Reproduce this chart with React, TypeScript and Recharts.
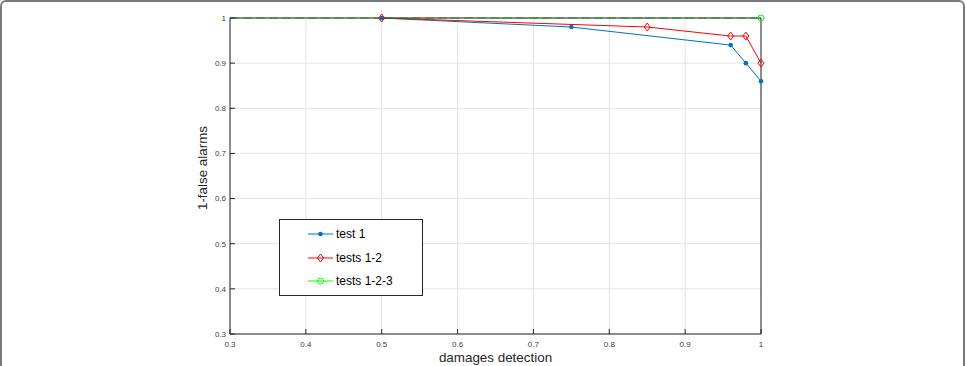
import React from 'react';
import { LineChart, Line, XAxis, YAxis, CartesianGrid } from 'recharts';

// damages detection (x) vs 1-false alarms (y)
const test1X = [0.5, 0.75, 0.96, 0.98, 1.0];
const test1Y = [1.0, 0.98, 0.94, 0.9, 0.86];

const tests12X = [0.5, 0.85, 0.96, 0.98, 1.0];
const tests12Y = [1.0, 0.98, 0.96, 0.96, 0.9];

const tests123X = [0.3, 1.0];
const tests123Y = [1.0, 1.0];

const xTicks = [0.3, 0.4, 0.5, 0.6, 0.7, 0.8, 0.9, 1];
const yTicks = [0.3, 0.4, 0.5, 0.6, 0.7, 0.8, 0.9, 1];
const X_MIN = 0.3;

const seriesNames = ['test 1', 'tests 1-2', 'tests 1-2-3'];

const BLUE = '#0072BD';
const RED = '#ff0000';
const GREEN = '#00ff00';
const AXIS = '#262626';
const FONT = '"Liberation Sans", Arial, Helvetica, sans-serif';

const toPoints = (xs: number[], ys: number[]) => xs.map((x, i) => ({ x, y: ys[i] }));

const test1 = toPoints(test1X, test1Y);
const tests12 = toPoints(tests12X, tests12Y);
const tests123 = toPoints(tests123X, tests123Y);

const fmt = (v: number) => String(Math.round(v * 10) / 10);

const BlueDot = (p: any) => <circle key={`b${p.index}`} cx={p.cx} cy={p.cy} r={2.3} fill={BLUE} stroke="none" />;

const RedDot = (p: any) => (
  <path
    key={`r${p.index}`}
    d={`M${p.cx},${p.cy - 4}L${p.cx + 3},${p.cy}L${p.cx},${p.cy + 4}L${p.cx - 3},${p.cy}Z`}
    fill="none"
    stroke={RED}
    strokeWidth={1}
  />
);

// the green curve starts on the left edge without a marker there
const GreenDot = (p: any) =>
  p.payload && p.payload.x > X_MIN ? (
    <circle key={`g${p.index}`} cx={p.cx} cy={p.cy} r={3} fill="none" stroke={GREEN} strokeWidth={1} />
  ) : (
    <g key={`g${p.index}`} />
  );

const legendMarkers = [
  <circle cx={12.5} cy={5} r={2.3} fill={BLUE} />,
  <path d="M12.5,1L15.5,5L12.5,9L9.5,5Z" fill="none" stroke={RED} />,
  <circle cx={12.5} cy={5} r={3} fill="none" stroke={GREEN} />,
];
const legendColors = [BLUE, RED, GREEN];

function LegendBox() {
  return (
    <div
      style={{
        position: 'absolute',
        left: 279,
        top: 219,
        width: 144,
        height: 77,
        boxSizing: 'border-box',
        border: `1px solid ${AXIS}`,
        background: '#fff',
        fontFamily: FONT,
        fontSize: 12,
        color: '#000',
      }}
    >
      {seriesNames.map((name, i) => (
        <div
          key={name}
          style={{ position: 'absolute', left: 28, top: 7 + i * 23.5, height: 14, display: 'flex', alignItems: 'center' }}
        >
          <svg width={25} height={10} style={{ overflow: 'visible' }}>
            <line x1={0} y1={5} x2={25} y2={5} stroke={legendColors[i]} strokeWidth={1} />
            {legendMarkers[i]}
          </svg>
          <span style={{ marginLeft: 3, whiteSpace: 'nowrap' }}>{name}</span>
        </div>
      ))}
    </div>
  );
}

export default function App() {
  const tickStyle = { fontSize: 8, fill: '#404040', fontFamily: FONT };
  return (
    <div style={{ position: 'absolute', left: 0, top: 0, width: 966, height: 366, overflow: 'hidden', background: '#fff' }}>
      <div
        style={{
          position: 'absolute',
          left: 0,
          top: 0,
          width: 965,
          height: 400,
          boxSizing: 'border-box',
          border: '2px solid #7a7a7a',
          borderRadius: 6,
        }}
      />
      <LineChart width={966} height={366} data={test1} margin={{ top: 17, right: 204, bottom: 0, left: 0 }}>
        <CartesianGrid xAxisId="b" yAxisId="l" stroke="#e3e3e3" strokeWidth={1} />
        <XAxis
          xAxisId="b"
          type="number"
          dataKey="x"
          domain={[0.3, 1]}
          ticks={xTicks}
          tickFormatter={fmt}
          height={32}
          tickSize={-5}
          tickMargin={12}
          tick={tickStyle}
          axisLine={{ stroke: AXIS }}
          tickLine={{ stroke: AXIS }}
          label={(props: any) => {
            const vb = props.viewBox;
            return (
              <text x={vb.x + vb.width / 2} y={vb.y + 28} textAnchor="middle" fontSize={13.4} fontFamily={FONT} fill="#262626">
                damages detection
              </text>
            );
          }}
        />
        <XAxis
          xAxisId="t"
          orientation="top"
          type="number"
          dataKey="x"
          domain={[0.3, 1]}
          ticks={xTicks}
          height={1}
          tick={false}
          tickSize={-5}
          axisLine={{ stroke: AXIS }}
          tickLine={{ stroke: AXIS }}
        />
        <YAxis
          yAxisId="l"
          type="number"
          domain={[0.3, 1]}
          ticks={yTicks}
          tickFormatter={fmt}
          width={230}
          tickSize={-5}
          tickMargin={9}
          tick={tickStyle}
          axisLine={{ stroke: AXIS }}
          tickLine={{ stroke: AXIS }}
          label={() => (
            <text
              x={207}
              y={168}
              textAnchor="middle"
              transform="rotate(-90 207 168)"
              fontSize={13.4}
              fontFamily={FONT}
              fill="#262626"
            >
              1-false alarms
            </text>
          )}
        />
        <YAxis
          yAxisId="r"
          orientation="right"
          type="number"
          domain={[0.3, 1]}
          ticks={yTicks}
          width={1}
          tick={false}
          tickSize={-5}
          axisLine={{ stroke: AXIS }}
          tickLine={{ stroke: AXIS }}
        />
        <Line
          xAxisId="b"
          yAxisId="l"
          data={test1}
          dataKey="y"
          name={seriesNames[0]}
          type="linear"
          stroke={BLUE}
          strokeWidth={1}
          dot={BlueDot}
          activeDot={false}
          isAnimationActive={false}
        />
        <Line
          xAxisId="b"
          yAxisId="l"
          data={tests12}
          dataKey="y"
          name={seriesNames[1]}
          type="linear"
          stroke={RED}
          strokeWidth={1}
          dot={RedDot}
          activeDot={false}
          isAnimationActive={false}
        />
        <Line
          xAxisId="b"
          yAxisId="l"
          data={tests123}
          dataKey="y"
          name={seriesNames[2]}
          type="linear"
          stroke={GREEN}
          strokeWidth={1.2}
          strokeDasharray="9 4"
          dot={GreenDot}
          activeDot={false}
          isAnimationActive={false}
        />
      </LineChart>
      <LegendBox />
    </div>
  );
}
